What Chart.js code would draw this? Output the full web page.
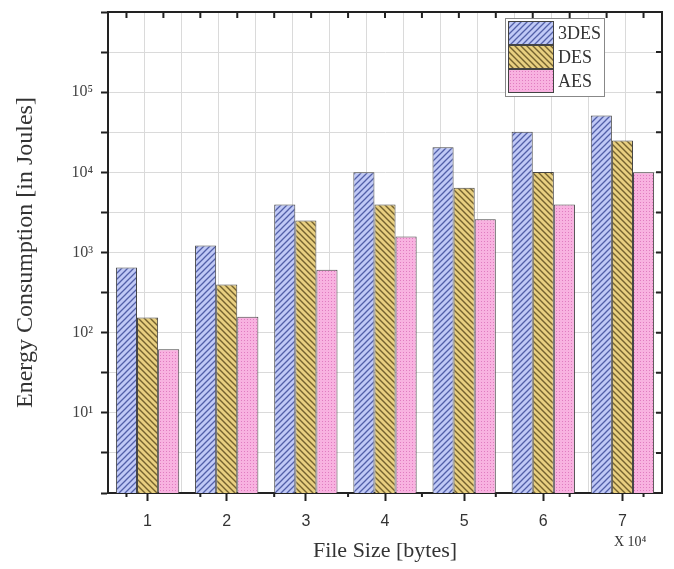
<!DOCTYPE html>
<html>
<head>
<meta charset="utf-8">
<script src="https://cdn.jsdelivr.net/npm/chart.js@4.4.1/dist/chart.umd.min.js"></script>
<style>
  html, body { margin: 0; padding: 0; background: #fff; }
  #wrap { position: relative; width: 674px; height: 569px; }
  #legend {
    position: absolute; left: 505px; top: 18px; width: 98px;
    border: 1px solid #888; background: #fff; padding: 2px 0 3px 0;
    font-family: "Liberation Serif", serif; font-size: 18px; color: #333;
  }
  .row { display: flex; align-items: center; height: 24px; }
  .row canvas { margin-left: 2px; border: 1px solid #444; box-sizing: border-box; }
  .row span { margin-left: 4px; }
  #mult {
    position: absolute; left: 614px; top: 534px;
    font-family: "Liberation Serif", serif; font-size: 14px; color: #333;
  }
</style>
</head>
<body>
<div id="wrap">
  <canvas id="chart" width="674" height="569"></canvas>
  <div id="legend"></div>
  <div id="mult">X 10⁴</div>
</div>
<script>
// file size categories (x 10^4 bytes)
const fileSizes = ['1', '2', '3', '4', '5', '6', '7'];
// energy consumption in joules
const des3 = [650, 1220, 3980, 10000, 20500, 32000, 51000];
const des = [155, 400, 2500, 3980, 6400, 10100, 25000];
const aes = [62, 158, 610, 1580, 2600, 3980, 10000];
// y tick labels by decade
const yTickLabels = { 1: '10¹', 2: '10²', 3: '10³', 4: '10⁴', 5: '10⁵' };

// hatch patterns like the origin-style bars
function makePattern(kind) {
  const c = document.createElement('canvas');
  const s = kind === 'dots' ? 3 : 6;
  c.width = s; c.height = s;
  const g = c.getContext('2d');
  if (kind === 'fwd') {
    g.fillStyle = '#c0c9f6'; g.fillRect(0, 0, s, s);
    g.strokeStyle = '#5260a8'; g.lineWidth = 1.3;
    g.beginPath();
    g.moveTo(0, s); g.lineTo(s, 0);
    g.moveTo(-1, 1); g.lineTo(1, -1);
    g.moveTo(s - 1, s + 1); g.lineTo(s + 1, s - 1);
    g.stroke();
  } else if (kind === 'back') {
    g.fillStyle = '#e8cf80'; g.fillRect(0, 0, s, s);
    g.strokeStyle = '#74622f'; g.lineWidth = 1.4;
    g.beginPath();
    g.moveTo(0, 0); g.lineTo(s, s);
    g.moveTo(-1, s - 1); g.lineTo(1, s + 1);
    g.moveTo(s - 1, -1); g.lineTo(s + 1, 1);
    g.stroke();
  } else {
    g.fillStyle = '#f8b2e0'; g.fillRect(0, 0, s, s);
    g.fillStyle = '#e07cc0'; g.fillRect(1, 1, 1, 1);
  }
  return g.createPattern(c, 'repeat');
}

const series = [
  { label: '3DES', data: des3, kind: 'fwd' },
  { label: 'DES', data: des, kind: 'back' },
  { label: 'AES', data: aes, kind: 'dots' }
];

// html legend with the same patterns
const legend = document.getElementById('legend');
series.forEach(sr => {
  const row = document.createElement('div');
  row.className = 'row';
  const sw = document.createElement('canvas');
  sw.width = 44; sw.height = 22;
  const sg = sw.getContext('2d');
  sg.fillStyle = makePattern(sr.kind);
  sg.fillRect(0, 0, 44, 22);
  const t = document.createElement('span');
  t.textContent = sr.label;
  row.appendChild(sw); row.appendChild(t);
  legend.appendChild(row);
});

const frameTicks = {
  id: 'frameTicks',
  afterDraw(chart) {
    const { ctx, chartArea: a, scales } = chart;
    const xg = scales.xg, y = scales.y;
    ctx.save();
    ctx.strokeStyle = '#222';
    ctx.lineWidth = 2;
    ctx.beginPath();
    ctx.moveTo(a.left - 1, a.top); ctx.lineTo(a.right, a.top); ctx.lineTo(a.right, a.bottom);
    y.ticks.forEach(t => {
      const py = y.getPixelForValue(t.value);
      ctx.moveTo(a.right, py); ctx.lineTo(a.right - 6, py);
    });
    xg.ticks.forEach(t => {
      const px = xg.getPixelForValue(t.value);
      ctx.moveTo(px, a.top); ctx.lineTo(px, a.top + 6);
      if (t.value % 1 !== 0) { ctx.moveTo(px, a.bottom); ctx.lineTo(px, a.bottom + 4); }
    });
    ctx.stroke();
    ctx.restore();
  }
};

new Chart(document.getElementById('chart'), {
  type: 'bar',
  data: {
    labels: fileSizes,
    datasets: series.map(sr => ({
      label: sr.label,
      data: sr.data,
      backgroundColor: makePattern(sr.kind),
      borderColor: '#444',
      borderWidth: 1,
      barPercentage: 1.0,
      categoryPercentage: 0.8
    }))
  },
  options: {
    responsive: false,
    devicePixelRatio: 1,
    animation: false,
    layout: { padding: { left: 0, top: 12, right: 12, bottom: 0 } },
    plugins: { legend: { display: false }, tooltip: { enabled: false } },
    scales: {
      x: {
        position: 'bottom',
        grid: { offset: false, drawOnChartArea: false, tickLength: 8, tickWidth: 2, tickColor: '#222' },
        border: { color: '#222', width: 2 },
        ticks: { font: { family: 'Liberation Sans', size: 16 }, color: '#333', padding: 11 },
        title: {
          display: true, text: 'File Size [bytes]', color: '#333',
          font: { family: 'Liberation Serif', size: 22 }, padding: { top: 4, bottom: 5 }
        },
        afterFit: s => { s.height = 76; }
      },
      xg: {
        type: 'linear', position: 'top', min: 0.5, max: 7.5,
        ticks: { stepSize: 0.5, display: false },
        grid: { color: '#dadada', drawTicks: false },
        border: { display: false },
        afterFit: s => { s.height = 0; }
      },
      y: {
        type: 'logarithmic', min: 1, max: 1e6,
        afterBuildTicks: s => {
          const t = [];
          for (let k = 0; k <= 12; k++) t.push({ value: Math.pow(10, k / 2) });
          s.ticks = t;
        },
        grid: { color: '#dadada', tickLength: 7, tickWidth: 2, tickColor: '#222' },
        border: { color: '#222', width: 2 },
        ticks: {
          font: { family: 'Liberation Serif', size: 16 }, color: '#444', padding: 8,
          callback: v => {
            const e = Math.log10(v);
            return Math.abs(e - Math.round(e)) < 1e-6 ? (yTickLabels[Math.round(e)] || '') : '';
          }
        },
        title: {
          display: true, text: 'Energy Consumption [in Joules]', color: '#333',
          font: { family: 'Liberation Serif', size: 24 }, padding: { top: 11, bottom: 0 }
        },
        afterFit: s => { s.width = 108; s.paddingTop = 0; s.paddingBottom = 0; }
      }
    }
  },
  plugins: [frameTicks]
});
</script>
</body>
</html>
